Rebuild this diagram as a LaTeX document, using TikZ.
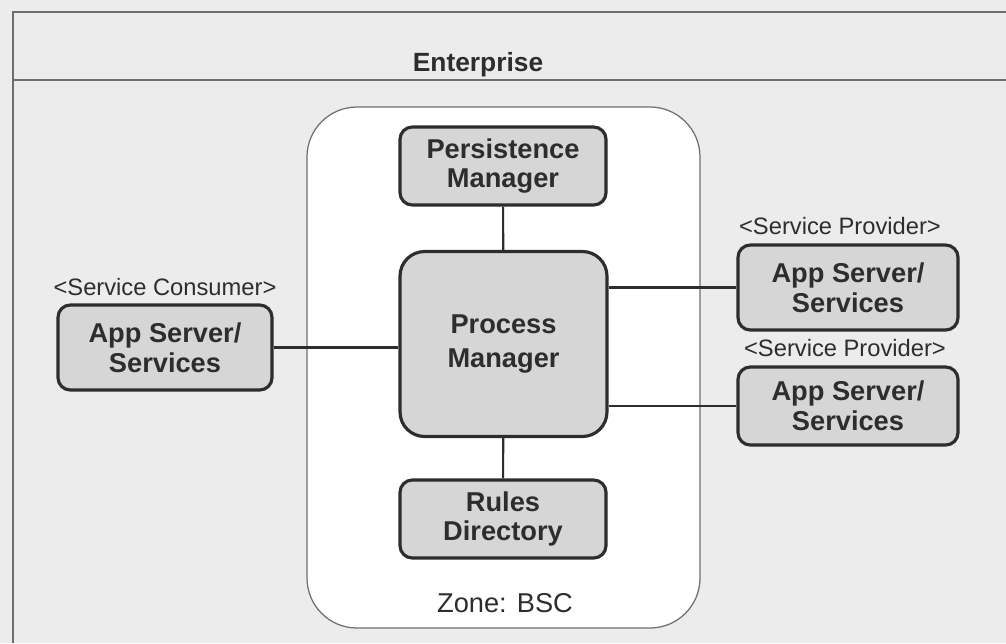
\documentclass[tikz,border=0pt]{standalone}
\usepackage{fontspec}
\setmainfont{Liberation Sans}
\usepackage{xcolor}
\usetikzlibrary{positioning,calc}
\definecolor{bggray}{RGB}{236,236,236}
\definecolor{boxgray}{RGB}{214,214,214}
\definecolor{framegray}{RGB}{110,110,110}
\definecolor{inkgray}{RGB}{45,45,45}

\begin{document}
\begin{tikzpicture}[
    component/.style={rectangle, draw=inkgray, rounded corners=7pt, line width=1.8pt, fill=boxgray, text=inkgray, minimum width=4.12cm, minimum height=1.56cm, align=center, font=\fontsize{15.5}{17}\selectfont\bfseries},
    stereo/.style={text=inkgray, font=\fontsize{13.5}{15}\selectfont},
    link/.style={draw=inkgray, line width=1.2pt}
]
\useasboundingbox (0,0) rectangle (20.12,-12.86);
\fill[bggray] (0,0) rectangle (20.12,-12.86);

% Enterprise frame
\draw[framegray, line width=0.9pt] (20.12,-0.24) -- (0.26,-0.24) -- (0.26,-12.86);
\draw[framegray, line width=0.9pt] (0.26,-1.6) -- (20.12,-1.6);
\node[text=inkgray, font=\fontsize{15}{17}\selectfont\bfseries] (enterprise) at (9.56,-1.3) {Enterprise};

% Zone
\draw[framegray, fill=white, line width=0.7pt, rounded corners=1cm] (6.14,-2.14) rectangle (14.0,-12.56);
\node[text=inkgray, font=\fontsize{15.5}{17}\selectfont] (zone) at (10.1,-12.06) {Zone: BSC};

% Components
\node[component] (persistence) at (10.06,-3.32) {Persistence\\Manager};
\node[component, rounded corners=14pt, minimum height=3.7cm, minimum width=4.14cm] (process) at (10.07,-6.88) {Process\\[2pt]Manager};
\node[component] (rules) at (10.06,-10.38) {Rules\\Directory};

\node[component, minimum width=4.28cm, minimum height=1.7cm] (consumer) at (3.3,-6.95) {App Server/\\Services};
\node[component, minimum width=4.4cm, minimum height=1.7cm] (provider1) at (16.96,-5.75) {App Server/\\Services};
\node[component, minimum width=4.4cm, minimum height=1.56cm] (provider2) at (16.96,-8.12) {App Server/\\Services};

% Stereotypes
\node[stereo] (consumerlabel) at (3.3,-5.74) {<Service Consumer>};
\node[stereo] (provider1label) at (16.8,-4.52) {<Service Provider>};
\node[stereo] (provider2label) at (16.9,-6.96) {<Service Provider>};

% Links
\draw[link] (persistence) -- (process);
\draw[link] (process) -- (rules);
\draw[link] (consumer.east) -- (consumer.east -| process.west);
\draw[link] (process.east |- provider1.west) -- (provider1.west);
\draw[link] (process.east |- provider2.west) -- (provider2.west);

\end{tikzpicture}
\end{document}
